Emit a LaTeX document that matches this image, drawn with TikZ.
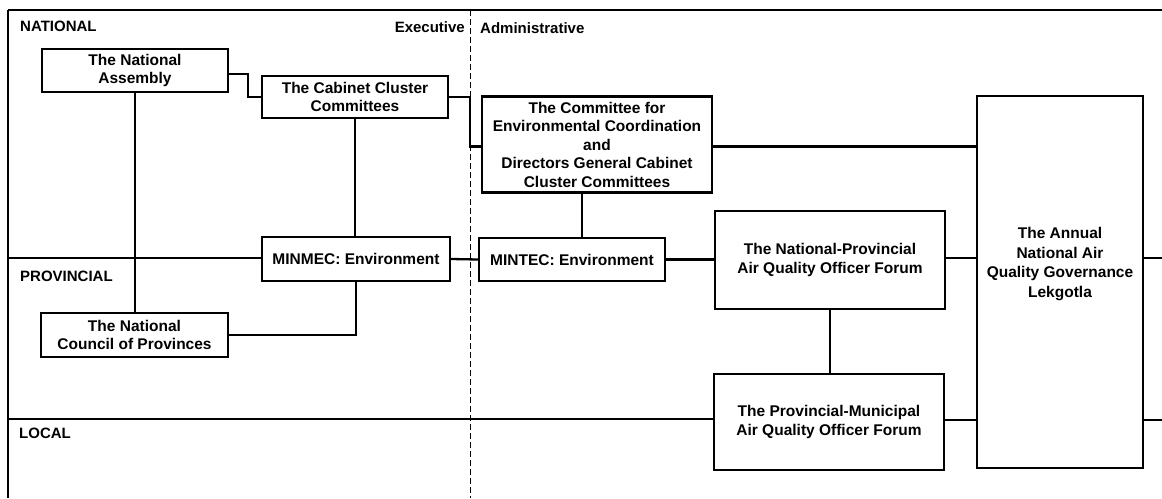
\documentclass[tikz,border=0pt]{standalone}
\usepackage{fontspec}
\setmainfont{Liberation Sans}
\begin{document}
\begin{tikzpicture}[x=1pt,y=-1pt,
  box/.style={draw, line width=2.3pt, align=center, inner sep=0pt,
    font=\bfseries\fontsize{15.5}{18.5}\selectfont},
  boxtext/.style={align=center, inner sep=0pt,
    font=\bfseries\fontsize{15.5}{19.5}\selectfont},
  band/.style={font=\bfseries\fontsize{15}{18}\selectfont, inner sep=0pt},
  conn/.style={line width=2.3pt},
  bandline/.style={line width=1.5pt},
  frameline/.style={line width=2.2pt},
  divider/.style={line width=1pt, dash pattern=on 6pt off 3pt}]
\useasboundingbox (0,0) rectangle (1162,498);

% frame and bands
\coordinate (tl) at (8,10);
\coordinate (tr) at (1162,10);
\coordinate (bl) at (8,498);
\coordinate (dtop) at (470,10);
\coordinate (dbot) at (470,498);
\coordinate (provL) at (8,258);
\coordinate (locL) at (8,419);
\draw[frameline] (tl) -- (tr);
\draw[line width=1.8pt] (tl) -- (bl);
\draw[divider] (dtop) -- (dbot);

% band labels
\node[band, anchor=west] (lnat) at (20,26) {NATIONAL};
\node[band, anchor=east] (lexe) at (465,27) {Executive};
\node[band, anchor=west] (ladm) at (480,28) {Administrative};
\node[band, anchor=west] (lprov) at (20,276) {PROVINCIAL};
\node[band, anchor=west] (lloc) at (19,433) {LOCAL};

% boxes
\node[box, minimum width=186, minimum height=43] (na) at (135,70.5) {The National\\Assembly};
\node[box, minimum width=186, minimum height=42] (cab) at (355,97) {The Cabinet Cluster\\Committees};
\node[box, minimum width=230, minimum height=96] (com) at (597,144.5)
  {The Committee for\\Environmental Coordination\\and\\Directors General Cabinet\\Cluster Committees};
\node[box, minimum width=188, minimum height=44] (minmec) at (356,259) {MINMEC: Environment};
\node[box, minimum width=186, minimum height=43] (mintec) at (572,259.5) {MINTEC: Environment};
\node[box, minimum width=187, minimum height=44] (ncop) at (134.5,335) {The National\\Council of Provinces};
\node[box, minimum width=230, minimum height=98] (np) at (830,260) {The National-Provincial\\Air Quality Officer Forum};
\node[box, minimum width=230, minimum height=96] (pm) at (829,422) {The Provincial-Municipal\\Air Quality Officer Forum};
\node[box, minimum width=166, minimum height=372] (ann) at (1060,282) {};
\node[boxtext] (anntxt) at (1060,264) {The Annual\\National Air\\Quality Governance\\Lekgotla};

% band lines
\draw[bandline] (provL) -- (minmec.west |- provL);
\draw[bandline] (locL) -- (pm.west |- locL);

% connectors
\draw[conn] (na.east |- 0,74) -- (248,74) |- (cab.west);
\draw[conn] (cab.east) -- (470,97) |- ([yshift=-2pt]com.west);
\draw[conn] (cab.south) -- (cab.south |- minmec.north);
\draw[conn] (na.south) -- (na.south |- ncop.north);
\draw[conn] (ncop.east) -| (minmec.south);
\draw[conn] (minmec.east) -- (mintec.west);
\draw[conn] ([xshift=-15pt]com.south) -- ([xshift=-15pt]com.south |- mintec.north);
\draw[conn] (mintec.east) -- (np.west |- mintec.east);
\draw[conn] (np.south) -- (np.south |- pm.north);
\draw[conn] ([yshift=-2pt]com.east) -- ([yshift=-2pt]com.east -| ann.west);
\draw[conn] (np.east |- 0,258) -- (ann.west |- 0,258);
\draw[conn] (pm.east |- 0,420) -- (ann.west |- 0,420);
\draw[conn] (ann.east |- 0,258) -- (1162,258);
\draw[conn] (ann.east |- 0,420) -- (1162,420);
\end{tikzpicture}
\end{document}
